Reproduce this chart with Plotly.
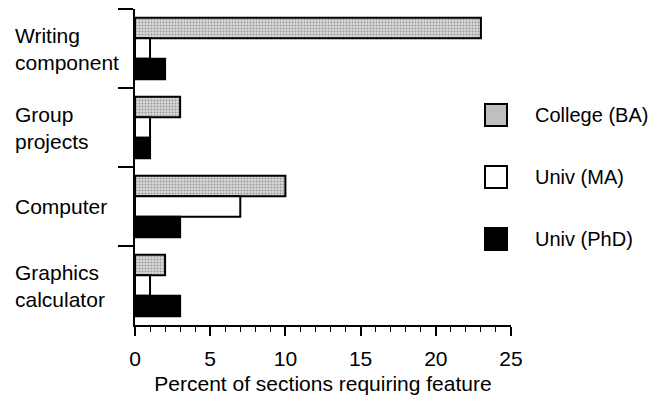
import plotly.graph_objects as go

categories = ["Writing<br>component", "Group<br>projects", "Computer", "Graphics<br>calculator"]
college_ba = [23, 3, 10, 2]
univ_ma = [1, 1, 7, 1]
univ_phd = [2, 1, 3, 3]
series_names = ["College (BA)", "Univ (MA)", "Univ (PhD)"]
x_title = "Percent of sections requiring feature"

FONT = "Liberation Sans, Arial, Helvetica, sans-serif"
FS = 21

W, H = 651, 388
ML, MR, MT, MB = 127, 148, 1, 71
PW, PH = W - ML - MR, H - MT - MB


def px_x(x):
    return (x - ML) / PW


def px_y(y):
    return 1 - (y - MT) / PH


fig = go.Figure()

fig.add_trace(go.Bar(
    y=categories, x=college_ba, orientation="h", name=series_names[0], showlegend=False,
    marker=dict(color="#cfcfcf", line=dict(color="black", width=2),
                pattern=dict(shape=".", fgcolor="#555555", bgcolor="#d8d8d8", size=3, solidity=0.35)),
))
fig.add_trace(go.Bar(
    y=categories, x=univ_ma, orientation="h", name=series_names[1], showlegend=False,
    marker=dict(color="white", line=dict(color="black", width=2)),
))
fig.add_trace(go.Bar(
    y=categories, x=univ_phd, orientation="h", name=series_names[2], showlegend=False,
    marker=dict(color="black", line=dict(color="black", width=2)),
))

# legend (drawn as shapes + text to get the large swatches)
legend_fills = ["#bfbfbf", "white", "black"]
legend_y = [107, 169, 231]
for nm, fc, ly in zip(series_names, legend_fills, legend_y):
    fig.add_shape(
        type="rect", xref="paper", yref="paper",
        xsizemode="pixel", ysizemode="pixel",
        xanchor=px_x(488), yanchor=px_y(ly),
        x0=-11, x1=11, y0=-11, y1=11,
        fillcolor=fc, line=dict(color="black", width=2),
    )
    fig.add_annotation(
        x=px_x(525), xref="paper", y=px_y(ly), yref="paper", text=nm, showarrow=False,
        xanchor="left", yanchor="middle", align="left",
        font=dict(family=FONT, size=20, color="black"),
    )

# left-aligned category labels
for c in categories:
    fig.add_annotation(
        x=-0.3245, xref="paper", y=c, yref="y", text=c, showarrow=False,
        xanchor="left", yanchor="middle", align="left",
        font=dict(family=FONT, size=FS, color="black"),
    )

fig.update_layout(
    width=W, height=H,
    margin=dict(l=ML, r=MR, t=MT, b=MB),
    paper_bgcolor="white", plot_bgcolor="white",
    barmode="group", bargap=0.22, bargroupgap=0,
    showlegend=False,
    font=dict(family=FONT, size=FS, color="black"),
    xaxis=dict(
        range=[0, 25], dtick=5, tick0=0, showgrid=False, zeroline=False,
        showline=True, linecolor="black", linewidth=2,
        ticks="outside", ticklen=9, tickwidth=1.5, tickcolor="black",
        minor=dict(dtick=1, ticks="outside", ticklen=5, tickwidth=1, tickcolor="black", showgrid=False),
        tickfont=dict(family=FONT, size=FS), ticklabelstandoff=5,
        title=dict(text=x_title, font=dict(family=FONT, size=FS), standoff=7),
    ),
    yaxis=dict(
        autorange="reversed", showgrid=False, zeroline=False,
        showline=True, linecolor="black", linewidth=2,
        ticks="outside", tickson="boundaries", ticklen=15, tickwidth=1.5, tickcolor="black",
        showticklabels=False,
    ),
)

fig.write_html("out.html")
